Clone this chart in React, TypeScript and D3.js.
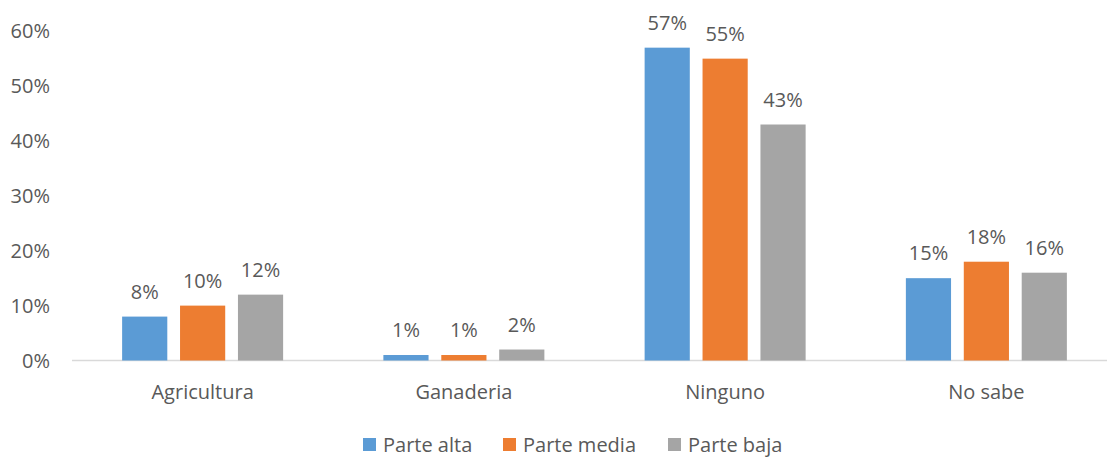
import React from "react";
import * as d3 from "d3";

const categories = ["Agricultura", "Ganaderia", "Ninguno", "No sabe"];
const seriesNames = ["Parte alta", "Parte media", "Parte baja"];
const parteAlta = [8, 1, 57, 15];
const parteMedia = [10, 1, 55, 18];
const parteBaja = [12, 2, 43, 16];
const yTicks = [0, 10, 20, 30, 40, 50, 60];
const colors = ["#5b9bd5", "#ed7d31", "#a5a5a5"];

const W = 1107;
const H = 458;
const FONT = "'Open Sans', sans-serif";
const TXT = "#595959";
const FS = 20;

export default function App() {
  const series = [parteAlta, parteMedia, parteBaja];
  const x0 = d3.scaleBand<string>().domain(categories).range([72, 1117]).paddingInner(0).paddingOuter(0);
  const groupW = 161;
  const x1 = d3
    .scaleBand<string>()
    .domain(seriesNames)
    .range([0, groupW])
    .paddingInner(0.22)
    .paddingOuter(0);
  const y = d3.scaleLinear().domain([0, 60]).range([360.5, 31.2]);

  const legendX = [363, 503, 668];

  return (
    <svg width={W} height={H} style={{ position: "absolute", left: 0, top: 0 }} fontFamily={FONT}>
      <rect width={W} height={H} fill="#fff" />
      {yTicks.map((t) => (
        <text key={t} x={50} y={y(t)} dy="0.35em" textAnchor="end" fontSize={FS} fill={TXT}>
          {t}%
        </text>
      ))}
      <line x1={72} x2={W} y1={y(0)} y2={y(0)} stroke="#d9d9d9" strokeWidth={1.5} />
      {categories.map((c, ci) => {
        const gx = x0(c)! + x0.bandwidth() / 2 - groupW / 2;
        return (
          <g key={c}>
            {series.map((s, si) => {
              const bx = gx + x1(seriesNames[si])!;
              const bw = x1.bandwidth();
              return (
                <g key={si}>
                  <rect x={bx} y={y(s[ci])} width={bw} height={y(0) - y(s[ci])} fill={colors[si]} />
                  <text
                    x={bx + bw / 2}
                    y={y(s[ci]) - 18}
                    textAnchor="middle"
                    fontSize={FS}
                    fill={TXT}
                  >
                    {s[ci]}%
                  </text>
                </g>
              );
            })}
            <text
              x={x0(c)! + x0.bandwidth() / 2}
              y={392}
              dy="0.35em"
              textAnchor="middle"
              fontSize={FS}
              fill={TXT}
            >
              {c}
            </text>
          </g>
        );
      })}
      {seriesNames.map((n, i) => (
        <g key={n}>
          <rect x={legendX[i]} y={438} width={13} height={13} fill={colors[i]} />
          <text x={legendX[i] + 20} y={445} dy="0.35em" fontSize={FS} fill={TXT}>
            {n}
          </text>
        </g>
      ))}
    </svg>
  );
}
